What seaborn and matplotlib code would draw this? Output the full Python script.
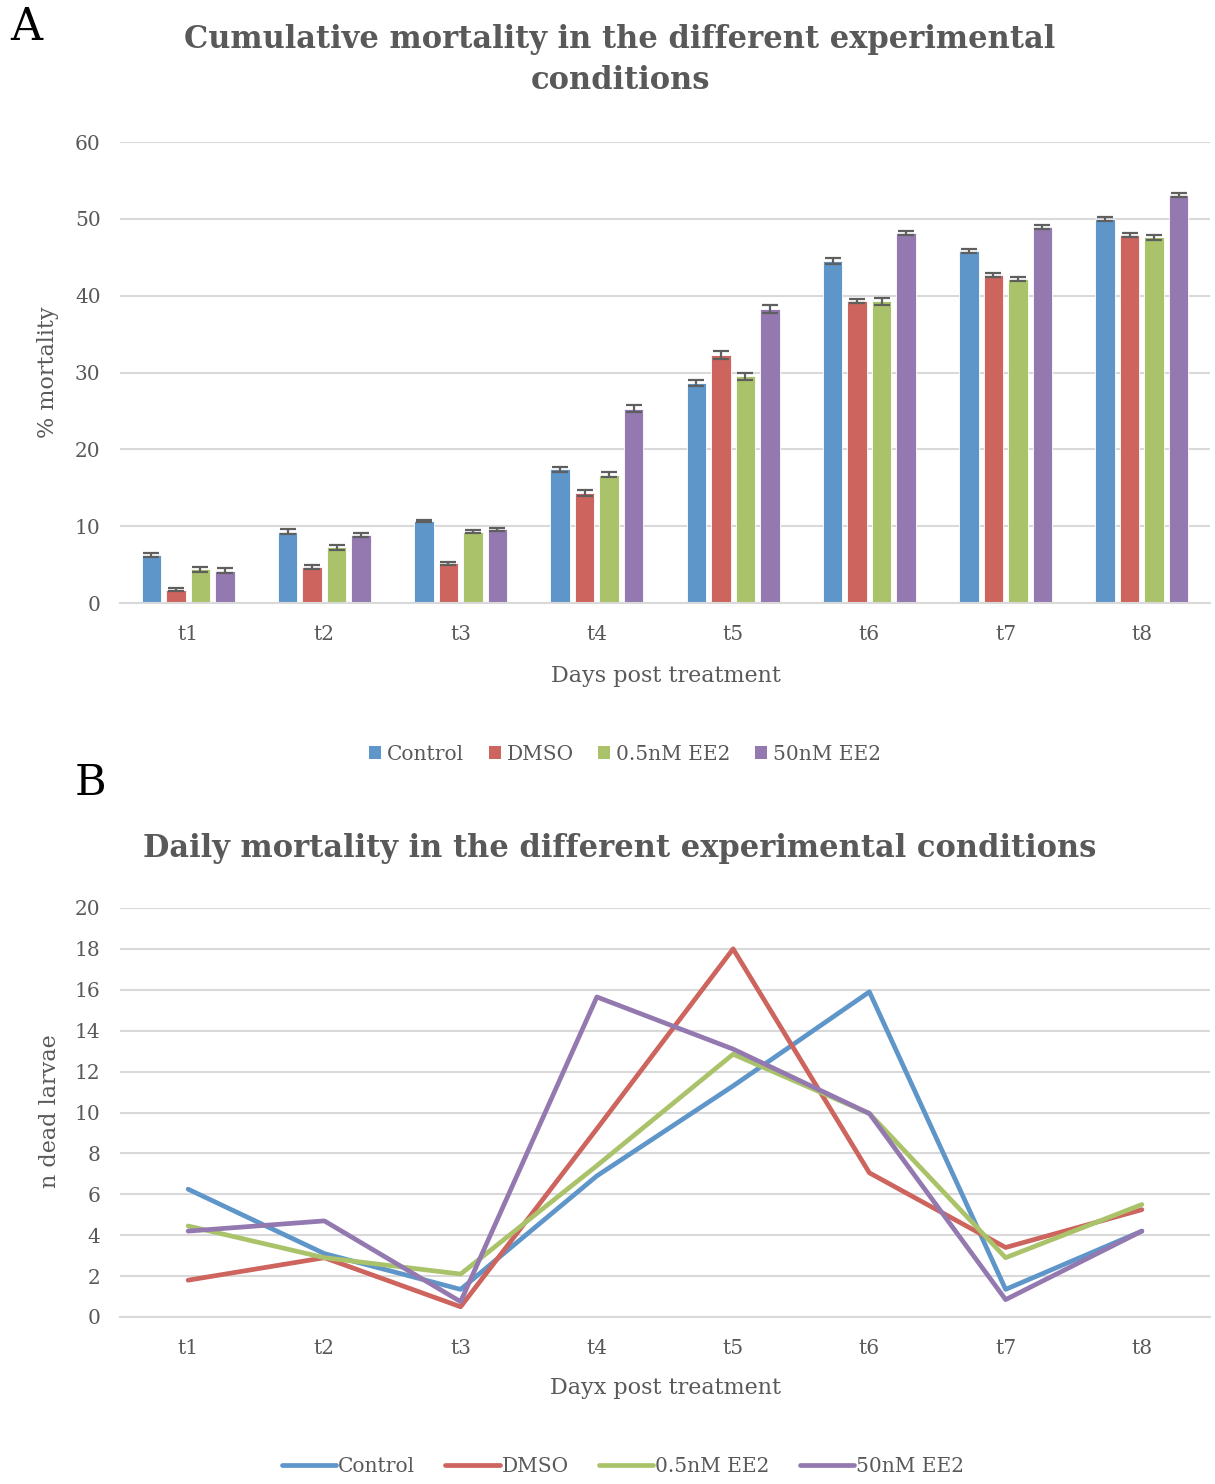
import numpy as np
import pandas as pd
import matplotlib
matplotlib.use('Agg')
import matplotlib.pyplot as plt
import seaborn as sns
from matplotlib.lines import Line2D
from matplotlib.patches import Patch

# ---------------- data ----------------
days = ['t1', 't2', 't3', 't4', 't5', 't6', 't7', 't8']
groups = ['Control', 'DMSO', '0.5nM EE2', '50nM EE2']

cum_control = [6.25, 9.3, 10.65, 17.4, 28.6, 44.5, 45.8, 50.0]
cum_dmso = [1.75, 4.7, 5.2, 14.3, 32.3, 39.3, 42.7, 47.9]
cum_low = [4.4, 7.25, 9.3, 16.7, 29.5, 39.3, 42.2, 47.6]
cum_high = [4.2, 8.85, 9.6, 25.3, 38.3, 48.2, 48.9, 53.1]

err_control = [0.3, 0.3, 0.15, 0.35, 0.4, 0.35, 0.3, 0.25]
err_dmso = [0.15, 0.25, 0.2, 0.35, 0.5, 0.3, 0.3, 0.2]
err_low = [0.35, 0.3, 0.2, 0.3, 0.45, 0.45, 0.25, 0.3]
err_high = [0.35, 0.3, 0.2, 0.45, 0.55, 0.25, 0.25, 0.2]

daily_control = [6.25, 3.1, 1.35, 6.9, 11.3, 15.9, 1.35, 4.2]
daily_dmso = [1.8, 2.9, 0.5, 9.2, 18.0, 7.05, 3.4, 5.25]
daily_low = [4.45, 2.9, 2.1, 7.4, 12.85, 9.95, 2.9, 5.5]
daily_high = [4.2, 4.7, 0.75, 15.65, 13.1, 9.95, 0.85, 4.2]

colors = ['#5F96C9', '#CD645E', '#AAC36A', '#9379B0']

# ---------------- style ----------------
sns.set_theme(style='white')
plt.rcParams['font.family'] = ['DejaVu Serif']
GRAY = '#595959'
GRID = '#d9d9d9'

W, H = 1215, 1484
fig = plt.figure(figsize=(W / 100, H / 100), dpi=100)


def px_axes(left, top, right, bottom):
    return fig.add_axes([left / W, 1 - bottom / H, (right - left) / W, (bottom - top) / H])


def style_axes(ax):
    ax.set_axisbelow(True)
    ax.yaxis.grid(True, color=GRID, lw=1.5)
    ax.xaxis.grid(False)
    for s in ['top', 'right', 'left']:
        ax.spines[s].set_visible(False)
    ax.spines['bottom'].set_color(GRID)
    ax.spines['bottom'].set_linewidth(1.5)
    ax.tick_params(axis='both', length=0, labelsize=14.5, labelcolor=GRAY)
    ax.tick_params(axis='y', pad=14)
    ax.tick_params(axis='x', pad=16)
    ax.set_xlabel('')
    ax.set_ylabel('')


# ---------------- panel A ----------------
dfA = pd.DataFrame({
    'day': days * 4,
    'group': np.repeat(groups, len(days)),
    'value': cum_control + cum_dmso + cum_low + cum_high,
})
axA = px_axes(120, 142, 1210, 603)
sns.barplot(data=dfA, x='day', y='value', hue='group', hue_order=groups,
            palette=colors, width=0.72, gap=0.2, errorbar=None, saturation=1,
            legend=False, ax=axA, edgecolor='white', linewidth=0.6)
for cont, errs in zip(axA.containers, [err_control, err_dmso, err_low, err_high]):
    xs = [p.get_x() + p.get_width() / 2 for p in cont]
    ys = [p.get_height() for p in cont]
    axA.errorbar(xs, ys, yerr=errs, fmt='none', ecolor='#5f5f5f',
                 elinewidth=1.6, capsize=6, capthick=1.6, zorder=5)
axA.set_ylim(0, 60)
axA.set_xlim(-0.5, 7.5)
axA.set_yticks(range(0, 61, 10))
style_axes(axA)

fig.text(620 / W, 1 - 60 / H,
         'Cumulative mortality in the different experimental\nconditions',
         ha='center', va='center', fontsize=22, fontweight='bold', color=GRAY,
         linespacing=1.42)
fig.text(10 / W, 1 - 27 / H, 'A', ha='left', va='center', fontsize=32, color='black')
fig.text(48 / W, 1 - 372 / H, '% mortality', ha='center', va='center', rotation=90,
         fontsize=16, color=GRAY)
fig.text(666 / W, 1 - 676 / H, 'Days post treatment', ha='center', va='center',
         fontsize=16, color=GRAY)

handlesA = [Patch(facecolor=c, edgecolor='none') for c in colors]
fig.legend(handlesA, groups, loc='center', bbox_to_anchor=(625 / W, 1 - 754 / H),
           ncol=4, frameon=False, fontsize=14.5, handlelength=0.6, handleheight=0.6,
           handletextpad=0.3, columnspacing=1.2, labelcolor=GRAY)

# ---------------- panel B ----------------
dfB = pd.DataFrame({
    'day': days * 4,
    'group': np.repeat(groups, len(days)),
    'n': daily_control + daily_dmso + daily_low + daily_high,
})
axB = px_axes(120, 908, 1210, 1317)
sns.lineplot(data=dfB, x='day', y='n', hue='group', hue_order=groups,
             palette=colors, linewidth=3.4, sort=False, legend=False, ax=axB,
             solid_capstyle='round')
axB.set_ylim(0, 20)
axB.set_xlim(-0.5, 7.5)
axB.set_yticks(range(0, 21, 2))
style_axes(axB)

fig.text(620 / W, 1 - 849 / H, 'Daily mortality in the different experimental conditions',
         ha='center', va='center', fontsize=22, fontweight='bold', color=GRAY)
fig.text(90 / W, 1 - 783 / H, 'B', ha='center', va='center', fontsize=31, color='black')
fig.text(50 / W, 1 - 1111 / H, 'n dead larvae', ha='center', va='center', rotation=90,
         fontsize=16, color=GRAY)
fig.text(666 / W, 1 - 1388 / H, 'Dayx post treatment', ha='center', va='center',
         fontsize=16, color=GRAY)

handlesB = [Line2D([0], [0], color=c, lw=3.4, solid_capstyle='round') for c in colors]
fig.legend(handlesB, groups, loc='center', bbox_to_anchor=(623 / W, 1 - 1467 / H),
           ncol=4, frameon=False, fontsize=14.5, handlelength=2.7,
           handletextpad=0.1, columnspacing=1.5, labelcolor=GRAY)

fig.savefig('out.png', dpi=100)
